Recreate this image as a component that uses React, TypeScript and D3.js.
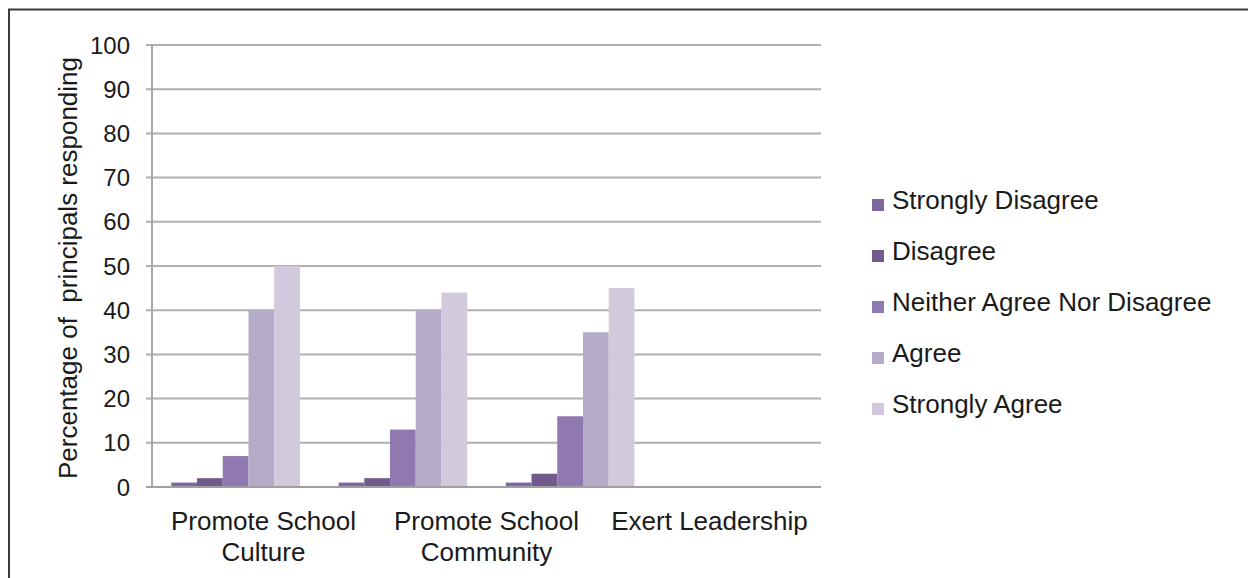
import React from "react";
import * as d3 from "d3";

const categories = ["Promote School Culture", "Promote School Community", "Exert Leadership"];
const categoryLines = [["Promote School", "Culture"], ["Promote School", "Community"], ["Exert Leadership"]];
const seriesNames = ["Strongly Disagree", "Disagree", "Neither Agree Nor Disagree", "Agree", "Strongly Agree"];
const seriesColors = ["#7f67a1", "#735a8d", "#9079b0", "#b3abc7", "#d1c9dc"];
const stronglyDisagree = [1, 1, 1];
const disagree = [2, 2, 3];
const neither = [7, 13, 16];
const agree = [40, 40, 35];
const stronglyAgree = [50, 44, 45];
const yTicks = [0, 10, 20, 30, 40, 50, 60, 70, 80, 90, 100];

const seriesValues = [stronglyDisagree, disagree, neither, agree, stronglyAgree];

const W = 1248;
const H = 578;
const left = 152;
const right = 821;
const top = 45;
const bottom = 487;
const font = "'Liberation Sans', Arial, sans-serif";

export default function App() {
  const y = d3.scaleLinear().domain([0, 100]).range([bottom, top]);
  // bar groups occupy four equal slots (the last one empty), as in the original chart
  const slots = [...categories, "(empty)"];
  const xGroup = d3
    .scaleBand<string>()
    .domain(slots)
    .range([left, right])
    .paddingInner(1.5 / 6.5)
    .paddingOuter(0.75 / 6.5);
  const xBar = d3
    .scaleBand<string>()
    .domain(seriesNames)
    .range([0, xGroup.bandwidth()])
    .padding(0);
  const xLabel = d3.scaleBand<string>().domain(categories).range([left, right]);

  return (
    <svg width={W} height={H} style={{ position: "absolute", left: 0, top: 0 }}>
      <rect x={0} y={0} width={W} height={H} fill="#fff" />
      <rect x={9} y={9.5} width={W + 20} height={H + 20} fill="none" stroke="#3a3a3a" strokeWidth={2} />
      {yTicks.map((t) => (
        <g key={t}>
          <line x1={left - 6} x2={right} y1={y(t)} y2={y(t)} stroke={t === 0 ? "#a0a0a0" : "#b0b0b0"} strokeWidth={2} />
          <text
            x={130}
            y={y(t)}
            dy="0.36em"
            textAnchor="end"
            fontFamily={font}
            fontSize={24}
            fill="#1a1a1a"
          >
            {t}
          </text>
        </g>
      ))}
      <line x1={left} x2={left} y1={top} y2={bottom} stroke="#a8a8a8" strokeWidth={2} />
      {categories.map((c, ci) => (
        <g key={c} transform={`translate(${xGroup(c)},0)`}>
          {seriesNames.map((s, si) => {
            const v = seriesValues[si][ci];
            return (
              <rect
                key={s}
                x={xBar(s)}
                y={y(v)}
                width={xBar.bandwidth()}
                height={bottom - y(v)}
                fill={seriesColors[si]}
              />
            );
          })}
        </g>
      ))}
      <line x1={left - 6} x2={right} y1={bottom} y2={bottom} stroke="#a0a0a0" strokeWidth={2} />
      {categories.map((c, ci) => (
        <text
          key={c}
          x={(xLabel(c) as number) + xLabel.bandwidth() / 2}
          y={530}
          textAnchor="middle"
          fontFamily={font}
          fontSize={26}
          fill="#1a1a1a"
        >
          {categoryLines[ci].map((line, li) => (
            <tspan key={li} x={(xLabel(c) as number) + xLabel.bandwidth() / 2} dy={li === 0 ? 0 : 31}>
              {line}
            </tspan>
          ))}
        </text>
      ))}
      <text
        transform={`translate(68,${(top + bottom) / 2 + 2}) rotate(-90)`}
        textAnchor="middle"
        dy="0.36em"
        fontFamily={font}
        fontSize={26}
        fill="#1a1a1a"
        style={{ whiteSpace: "pre" }}
      >
        {"Percentage of  principals responding"}
      </text>
      {seriesNames.map((s, i) => (
        <g key={s} transform={`translate(872,${209 + i * 51})`}>
          <rect x={0} y={-10} width={12} height={12} fill={seriesColors[i]} />
          <text x={20} y={0} fontFamily={font} fontSize={26} fill="#1a1a1a">
            {s}
          </text>
        </g>
      ))}
    </svg>
  );
}
